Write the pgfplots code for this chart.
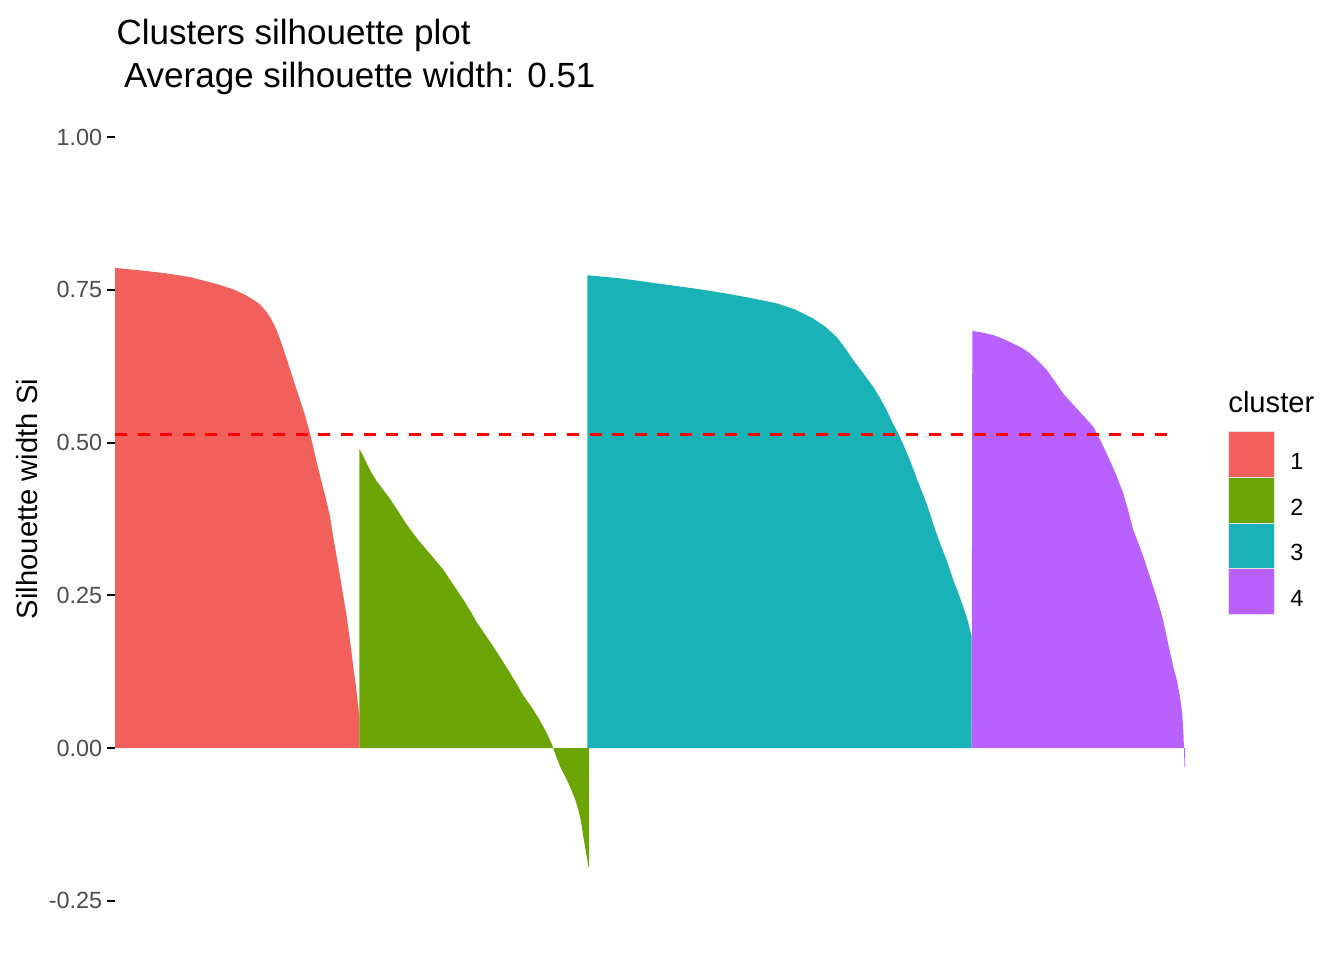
\documentclass[border=0pt]{standalone}
\usepackage{pgfplots}
\pgfplotsset{compat=1.18}
\usepackage{fontspec}
\setmainfont{Liberation Sans}
\definecolor{cA}{HTML}{F2605B}
\definecolor{cB}{HTML}{6BA405}
\definecolor{cC}{HTML}{19B2B6}
\definecolor{cD}{HTML}{B861FF}
\definecolor{tickgrey}{HTML}{4D4D4D}
\definecolor{keyborder}{HTML}{E3E3E3}
\begin{document}
\begin{tikzpicture}
\path[use as bounding box] (0,0) rectangle (672pt,480pt);
\begin{axis}[
  at={(57.5pt,10.5pt)}, anchor=south west,
  scale only axis, width=537.5pt, height=420pt,
  xmin=115, xmax=1190, ymin=-0.3125, ymax=1.0625,
  axis line style={draw=none},
  xtick=\empty,
  ytick={-0.25,0,0.25,0.5,0.75,1},
  yticklabels={-0.25,0.00,0.25,0.50,0.75,1.00},
  ytick pos=left, tick align=outside,
  major tick length=3.85pt,
  ytick style={black, line width=1pt},
  yticklabel style={font=\fontsize{11.7}{14}\selectfont, text=tickgrey, inner sep=0pt, xshift=-2.4pt},
  legend image code/.code={\draw[#1, draw=keyborder, line width=0.5pt] (0pt,-7.3pt) rectangle (23pt,15.65pt);},
  legend style={at={(1.0353,0.6051)}, anchor=north west, draw=none, fill=none,
    inner sep=0pt, outer sep=0pt, row sep=-0.5pt, column sep=7.75pt,
    font=\fontsize{11.7}{14}\selectfont, nodes={inner sep=0pt}},
  legend cell align=left,
]
% cluster 1
\addplot[fill=cA, draw=none] coordinates {
(115,0) (115,0.786) (140,0.782) (166.7,0.777) (190,0.771) (206.7,0.764) (220,0.758)
(233.3,0.751) (245,0.742) (253.3,0.734) (260,0.726) (266,0.715) (271,0.703) (276.7,0.684)
(281,0.665) (286.7,0.637) (293,0.605) (300,0.570) (305,0.545) (310,0.515) (315,0.480)
(320,0.446) (325,0.414) (330,0.379) (333,0.348) (336.7,0.313) (341,0.272) (346.7,0.215)
(350,0.176) (353.3,0.133) (356,0.100) (358.3,0.068) (359.3,0.05) (359.3,0)
} \closedcycle;
\addlegendentry{1}
% cluster 2
\addplot[fill=cB, draw=none] coordinates {
(359.3,0) (359.3,0.490) (362,0.482) (366.7,0.466) (371,0.452) (376.7,0.437) (383,0.423)
(390,0.408) (398,0.388) (406.7,0.366) (418,0.341) (430,0.318) (443.3,0.292) (453,0.268)
(463.3,0.243) (470,0.225) (476.7,0.206) (485,0.186) (493.3,0.166) (502,0.144) (510,0.123)
(517,0.104) (523.3,0.086) (532,0.066) (540,0.045) (546,0.027) (551.7,0.007) (556,-0.013)
(560,-0.030) (565,-0.046) (570,-0.063) (575,-0.083) (578.3,-0.101) (581,-0.120)
(583.3,-0.145) (586,-0.170) (588.3,-0.194) (589,-0.196) (589,0)
} \closedcycle;
\addlegendentry{2}
% cluster 3
\addplot[fill=cC, draw=none] coordinates {
(587.3,0) (587.3,0.774) (620,0.769) (660,0.760) (700,0.751) (726.7,0.744) (750,0.737)
(776.7,0.728) (795,0.718) (813.3,0.703) (825,0.690) (836.7,0.673) (845,0.655)
(853.3,0.635) (863,0.614) (873.3,0.591) (880,0.573) (886.7,0.553) (892,0.534)
(898.3,0.515) (904,0.494) (910,0.471) (918,0.436) (926.7,0.400) (933,0.368) (940,0.335)
(947,0.306) (953.3,0.275) (958,0.255) (963.3,0.231) (968,0.207) (971.7,0.182) (971.7,0)
} \closedcycle;
\addlegendentry{3}
% cluster 4
\addplot[fill=cD, draw=none] coordinates {
(971.7,0) (972.3,0.683) (983,0.680) (993.3,0.676) (1003,0.670) (1013.3,0.662)
(1022,0.655) (1030,0.646) (1038,0.634) (1046.7,0.619) (1055,0.600) (1063.3,0.580)
(1070,0.568) (1076.7,0.556) (1085,0.541) (1093.3,0.526) (1100,0.505) (1106.7,0.482)
(1115,0.452) (1123.3,0.417) (1128,0.390) (1133.3,0.357) (1142,0.320) (1150,0.280)
(1157,0.245) (1163.3,0.209) (1168,0.172) (1173.3,0.133) (1177,0.110) (1180,0.084)
(1182,0.060) (1183.3,0.029) (1184,-0.003) (1184.5,-0.031) (1185,-0.031) (1185,0)
} \closedcycle;
\addlegendentry{4}
% average silhouette width
\addplot[forget plot, color=red, line width=1.5pt, dash pattern=on 6pt off 5.3pt] coordinates {(115,0.514) (1176,0.514)};
\end{axis}
\node[anchor=base west, inner sep=0pt, font=\fontsize{17.5}{20}\selectfont] at (58.1pt,457.5pt) {Clusters silhouette plot};
\node[anchor=base west, inner sep=0pt, font=\fontsize{17.5}{20}\selectfont] at (61.8pt,436pt) {Average silhouette width: 0.51};
\node[rotate=90, anchor=center, font=\fontsize{14.6}{17}\selectfont] at (13.5pt,230.5pt) {Silhouette width Si};
\node[anchor=base west, inner sep=0pt, font=\fontsize{14.6}{17}\selectfont] at (614pt,273.5pt) {cluster};
\end{tikzpicture}
\end{document}
